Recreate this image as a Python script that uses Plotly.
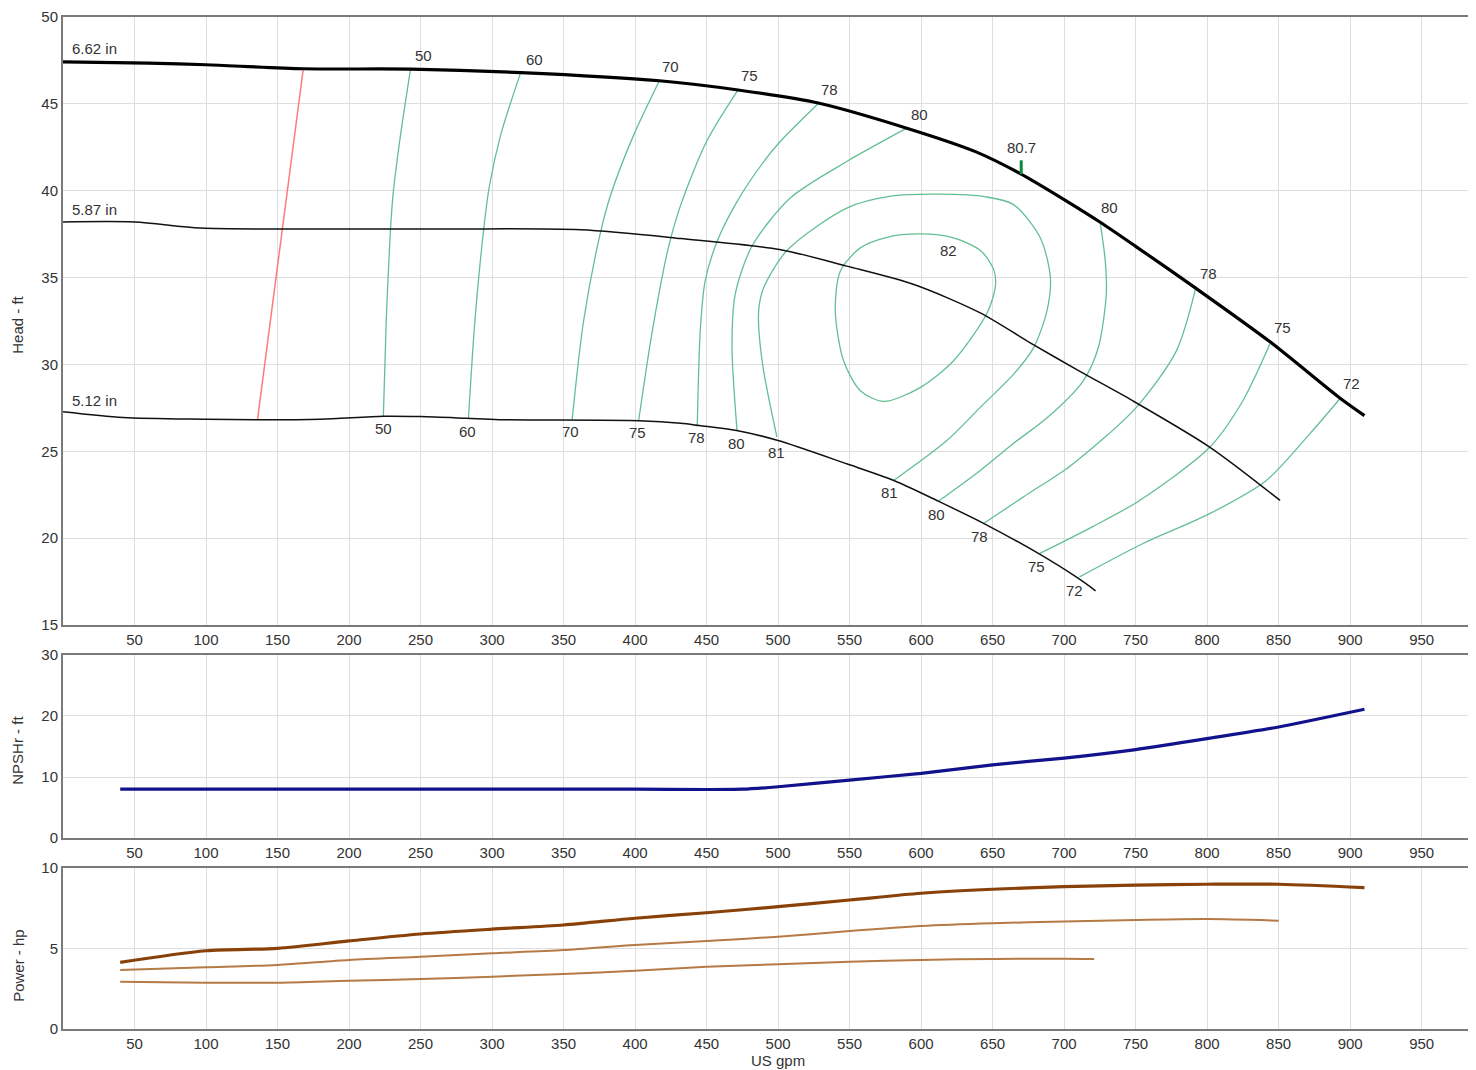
import plotly.graph_objects as go

# ---------------- data ----------------
# Impeller head curves (US gpm, ft)
q_662 = [0, 60, 100, 168, 243, 320, 417, 472, 528, 590, 638, 669, 702, 725, 750, 792, 844, 893, 910]
h_662 = [47.42, 47.35, 47.25, 47.02, 47.0, 46.8, 46.33, 45.8, 45.05, 43.6, 42.25, 41.0, 39.39, 38.2, 36.8, 34.39, 31.3, 28.05, 27.05]

q_587 = [0, 50, 96, 166, 271, 362, 432, 501, 548, 595, 641, 676, 711, 746, 802, 851]
h_587 = [38.2, 38.2, 37.85, 37.8, 37.8, 37.75, 37.25, 36.62, 35.66, 34.6, 32.98, 31.26, 29.6, 28.0, 25.23, 22.17]

q_512 = [0, 42, 100, 136, 180, 224, 250, 282, 305, 403, 432, 445, 471, 500, 548, 581, 612, 644, 682, 710, 722]
h_512 = [27.28, 26.95, 26.85, 26.82, 26.85, 27.02, 27.0, 26.9, 26.82, 26.76, 26.61, 26.48, 26.2, 25.62, 24.28, 23.32, 22.13, 20.84, 19.12, 17.68, 16.97]

# Minimum flow line
q_min = [168, 136]
h_min = [47.02, 26.82]

# Iso-efficiency lines (%)
eff50 = ([243, 236, 231, 229, 226, 224], [47.0, 43.2, 39.96, 37.8, 32.5, 27.02])
eff60 = ([320, 306, 298, 294, 288, 283.5], [46.8, 43.2, 40.2, 37.66, 32.5, 26.9])
eff70 = ([417, 399, 383, 376, 364, 356], [46.33, 43.2, 39.77, 37.66, 32.5, 26.82])
eff75 = ([472, 450, 432, 423, 412, 402.5], [45.8, 42.83, 39.2, 36.62, 31.9, 26.76])
eff78 = ([528.3, 501.5, 490, 471.4, 457.4, 449, 445.7, 443.5], [45.03, 42.83, 41.68, 39.39, 37.09, 34.8, 32.1, 26.5])
eff80a = ([590, 548, 508.5, 481.7, 470, 467.8, 471.3], [43.6, 41.68, 39.58, 36.8, 34.03, 30.97, 26.19])
eff81 = ([499.2, 488.8, 486.4, 489.9, 506.2, 548, 580, 613, 645, 664.7, 683.4, 690.4, 688, 678.7, 664.7, 641.4, 618, 580.8],
         [25.81, 30.21, 33.08, 34.41, 36.56, 39.0, 39.7, 39.8, 39.65, 39.2, 37.28, 34.99, 33.08, 30.97, 29.44, 27.53, 25.62, 23.32])
eff82 = ([599.6, 622.7, 641.5, 650.6, 652, 646.4, 622.7, 599.6, 573.8, 557.5, 545.8, 540, 543.5, 557.5, 576.2, 599.6],
         [37.51, 37.28, 36.56, 35.5, 34.55, 33.0, 30.21, 28.68, 27.87, 28.49, 30.21, 33.08, 35.37, 36.71, 37.32, 37.51])
eff80b = ([725.3, 728.8, 729.5, 723.9, 713.4, 688.3, 664.5, 641.4, 612.0], [38.12, 35.94, 34.05, 30.96, 29.06, 26.94, 25.45, 23.9, 22.12])
eff78b = ([792, 778.5, 750.5, 705, 672, 643.7], [34.39, 30.78, 27.53, 24.2, 22.4, 20.84])
eff75b = ([844, 825, 801.8, 752.8, 719.7, 683], [31.2, 27.91, 25.23, 22.17, 20.65, 19.12])
eff72b = ([892.7, 871.7, 841.4, 801.8, 755.2, 710.8], [28.01, 26.0, 23.32, 21.41, 19.69, 17.77])

# Efficiency labels (text, Q, H)
top_lab_txt = ["50", "60", "70", "75", "78", "80", "80.7", "80", "78", "75", "72"]
top_lab_q = [252, 330, 425, 480, 536, 599, 670, 732, 801, 853, 901]
top_lab_h = [47.76, 47.53, 47.13, 46.62, 45.81, 44.38, 42.48, 39.04, 35.26, 32.1, 28.89]
bot_lab_txt = ["50", "60", "70", "75", "78", "80", "81", "81", "80", "78", "75", "72", "82"]
bot_lab_q = [224, 283, 355, 402, 443, 471, 499, 578, 611, 641, 681, 707, 619]
bot_lab_h = [26.3, 26.13, 26.13, 26.08, 25.8, 25.45, 24.93, 22.63, 21.37, 20.11, 18.39, 17.01, 36.57]

# BEP marker
q_bep = [670, 670]
h_bep = [40.95, 41.75]

# Diameter labels
dia_txt = ["6.62 in", "5.87 in", "5.12 in"]
dia_h = [48.16, 38.93, 27.91]

# NPSHr (ft)
q_npsh = [40, 100, 200, 300, 400, 450, 475, 500, 550, 600, 650, 700, 750, 800, 850, 910]
npsh = [8, 8, 8, 8, 8, 7.95, 8.0, 8.4, 9.5, 10.6, 12.0, 13.1, 14.5, 16.3, 18.2, 21.1]

# Power (hp)
q_p662 = [40, 100, 150, 200, 250, 300, 350, 400, 450, 500, 550, 600, 650, 700, 750, 800, 850, 910]
p_662 = [4.14, 4.86, 5.01, 5.47, 5.9, 6.2, 6.46, 6.88, 7.22, 7.6, 8.01, 8.43, 8.68, 8.84, 8.94, 8.99, 8.99, 8.78]
q_p587 = [40, 100, 150, 200, 250, 300, 350, 400, 450, 500, 550, 600, 650, 700, 750, 800, 850]
p_587 = [3.66, 3.83, 3.98, 4.29, 4.49, 4.7, 4.9, 5.22, 5.47, 5.73, 6.09, 6.4, 6.57, 6.67, 6.77, 6.83, 6.73]
q_p512 = [40, 100, 150, 200, 250, 300, 350, 400, 450, 500, 550, 600, 650, 700, 721]
p_512 = [2.94, 2.88, 2.88, 3.0, 3.1, 3.25, 3.42, 3.62, 3.87, 4.02, 4.18, 4.29, 4.35, 4.37, 4.35]

x_ticks = list(range(50, 1000, 50))

# ---------------- figure ----------------
fig = go.Figure()

def add_line(x, y, color, width, xa="x", ya="y", smooth=0.8):
    fig.add_trace(go.Scatter(
        x=x, y=y, mode="lines", xaxis=xa, yaxis=ya,
        line=dict(color=color, width=width, shape="spline", smoothing=smooth),
        hoverinfo="skip", showlegend=False))

GREEN = "#63bf93"
for q, h in [eff50, eff60, eff70, eff75, eff78, eff80a, eff81, eff82, eff80b, eff78b, eff75b, eff72b]:
    add_line(q, h, GREEN, 1.3)

add_line(q_min, h_min, "#ff7b7b", 1.5, smooth=0)
add_line(q_587, h_587, "#111111", 1.5)
add_line(q_512, h_512, "#111111", 1.5)
add_line(q_662, h_662, "#000000", 3.2)
add_line(q_bep, h_bep, "#0a8a3a", 3, smooth=0)

add_line(q_npsh, npsh, "#12128c", 3.2, xa="x2", ya="y2", smooth=0.6)

add_line(q_p512, p_512, "#b57a45", 2, xa="x3", ya="y3")
add_line(q_p587, p_587, "#b57a45", 2, xa="x3", ya="y3")
add_line(q_p662, p_662, "#8a4108", 3.2, xa="x3", ya="y3")

FONT = dict(family="Liberation Sans, Arial, sans-serif", size=15, color="#333333")

ann = []
for t, q, h in zip(top_lab_txt, top_lab_q, top_lab_h):
    ann.append(dict(x=q, y=h, xref="x", yref="y", text=t, showarrow=False, font=FONT))
for t, q, h in zip(bot_lab_txt, bot_lab_q, bot_lab_h):
    ann.append(dict(x=q, y=h, xref="x", yref="y", text=t, showarrow=False, font=FONT))
for t, h in zip(dia_txt, dia_h):
    ann.append(dict(x=5, y=h, xref="x", yref="y", text=t, showarrow=False, xanchor="left", font=FONT))

ann += [
    dict(x=-0.032, y=0.6957, xref="paper", yref="paper", text="Head - ft", textangle=-90,
         xanchor="center", yanchor="middle", showarrow=False, font=FONT),
    dict(x=-0.032, y=0.2757, xref="paper", yref="paper", text="NPSHr - ft", textangle=-90,
         xanchor="center", yanchor="middle", showarrow=False, font=FONT),
    dict(x=-0.032, y=0.0632, xref="paper", yref="paper", text="Power - hp", textangle=-90,
         xanchor="center", yanchor="middle", showarrow=False, font=FONT),
    dict(x=0.506, y=-0.031, xref="paper", yref="paper", text="US gpm",
         xanchor="center", yanchor="middle", showarrow=False, font=FONT),
]

axis_common = dict(showline=True, linecolor="#7a7a7a", linewidth=2, mirror=True,
                   showgrid=True, gridcolor="#dedede", gridwidth=1, zeroline=False,
                   ticks="", tickfont=FONT, automargin=False, ticklabeloverflow="allow")
xr = [0, 988]

fig.update_layout(
    width=1476, height=1070,
    margin=dict(l=55, r=8, t=9, b=49),
    paper_bgcolor="white", plot_bgcolor="white",
    showlegend=False,
    annotations=ann,
    xaxis=dict(range=xr, tickvals=x_ticks, anchor="y", **axis_common),
    yaxis=dict(range=[15, 50], tickvals=list(range(15, 55, 5)), domain=[0.3992, 1.0], anchor="x", **axis_common),
    xaxis2=dict(range=xr, tickvals=x_ticks, anchor="y2", **axis_common),
    yaxis2=dict(range=[0, 30], tickvals=[0, 10, 20, 30], domain=[0.1887, 0.3696], anchor="x2", **axis_common),
    xaxis3=dict(range=xr, tickvals=x_ticks, anchor="y3", **axis_common),
    yaxis3=dict(range=[0, 10], tickvals=[0, 5, 10], domain=[0.0, 0.1591], anchor="x3", **axis_common),
)

fig.write_html("out.html")
